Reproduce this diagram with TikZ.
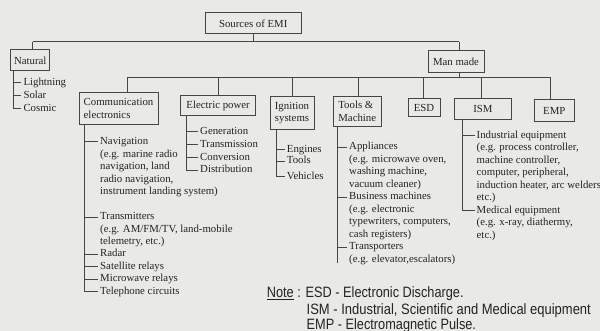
\documentclass[tikz,border=0pt]{standalone}
\usepackage{fontspec}
\usepackage{graphicx}
\setmainfont{Liberation Serif}
\newfontfamily\notefont{Liberation Sans}

\definecolor{paper}{RGB}{233,233,231}
\definecolor{ink}{RGB}{35,35,35}
\definecolor{rule}{RGB}{70,70,70}

\tikzset{
  srcbox/.style={draw=rule, line width=1pt, inner sep=0pt, align=left,
    font=\fontsize{10.8}{12.5}\selectfont, text=ink},
  item/.style={inner sep=0pt, anchor=base west,
    font=\fontsize{10.8}{12.5}\selectfont, text=ink},
  link/.style={draw=rule, line width=0.9pt},
  notetxt/.style={inner sep=0pt, anchor=base west, text=ink,
    font=\notefont\fontsize{15}{18}\selectfont},
}
% left-aligned lines whose baseline is that of the first line
\newcommand\vlines[1]{\vtop{\let\\\cr\halign{##\hfil\cr#1\crcr}}}
% short tick from a list's vertical rule to one of its entries
\newcommand\itemtick[2]{\draw[link] ([xshift=-2pt,yshift=3pt]#1.base west) -- ++(-#2,0);}

\begin{document}
\begin{tikzpicture}[x=1pt,y=-1pt]
\fill[paper] (0,0) rectangle (600,331);
\useasboundingbox (0,0) rectangle (600,331);

% ---- boxes ----
\node[srcbox, minimum width=95.5pt, minimum height=21.3pt] (src) at (253.25,23.35) {Sources of EMI};
\node[srcbox, minimum width=39.1pt, minimum height=20.7pt] (nat) at (30.25,60.35) {Natural};
\node[srcbox, minimum width=56pt, minimum height=21.6pt] (man) at (456,61.5) {Man made};
\node[srcbox, minimum width=79pt, minimum height=31.6pt] (comm) at (118.5,108.5) {Communication\\electronics};
\node[srcbox, minimum width=75pt, minimum height=20pt] (elec) at (218.1,105.7) {Electric power};
\node[srcbox, minimum width=44pt, minimum height=33.4pt] (ign) at (292,113) {Ignition\\systems};
\node[srcbox, minimum width=48.5pt, minimum height=30.4pt] (tool) at (357.25,111.5) {Tools \&\\Machine};
\node[srcbox, minimum width=32pt, minimum height=18pt] (esd) at (424,107.7) {ESD};
\node[srcbox, minimum width=57.7pt, minimum height=21.3pt] (ism) at (482.85,109.35) {ISM};
\node[srcbox, minimum width=40.5pt, minimum height=22.3pt] (emp) at (554.25,110.85) {EMP};

% ---- first level ----
\coordinate (dnat) at (32.5,41.7);
\coordinate (dman) at (459,41.7);
\draw[link] (dnat) -- (dman);
\draw[link] (src.south) -- (src.south |- dnat);
\draw[link] (dnat) -- (dnat |- nat.north);
\draw[link] (dman) -- (dman |- man.north);

% ---- man made branches ----
\coordinate (dcomm) at (127.5,77.3);
\coordinate (delec) at (218,77.3);
\coordinate (dign)  at (292,77.3);
\coordinate (dtool) at (358,77.3);
\coordinate (desd)  at (423.7,77.3);
\coordinate (dism)  at (481.5,77.3);
\coordinate (demp)  at (550,77.3);
\draw[link] (dcomm) -- (demp);
\draw[link] (man.south -| dman) -- (dman |- dcomm);
\foreach \d/\b in {dcomm/comm, delec/elec, dign/ign, dtool/tool, desd/esd, dism/ism, demp/emp}
  \draw[link] (\d) -- (\d |- \b.north);

% ---- natural ----
\node[item] (light)  at (23.3,85.5)  {Lightning};
\node[item] (solar)  at (23.3,98.5)  {Solar};
\node[item] (cosmic) at (23.3,111.3) {Cosmic};
\draw[link] ([xshift=3.3pt]nat.south west) |- ([xshift=-2pt,yshift=3pt]cosmic.base west);
\itemtick{light}{7.3}
\itemtick{solar}{7.3}

% ---- communication electronics ----
\node[item] (nav)   at (100,144.7) {\vlines{Navigation\\(e.g. marine radio\\navigation, land\\radio navigation,\\instrument landing system)}};
\node[item] (trans) at (100,220)   {\vlines{Transmitters\\(e.g. AM/FM/TV, land-mobile\\telemetry, etc.)}};
\node[item] (radar) at (100,257)   {Radar};
\node[item] (sat)   at (100,269.5) {Satellite relays};
\node[item] (micro) at (100,282)   {Microwave relays};
\node[item] (tel)   at (100,294.5) {Telephone circuits};
\draw[link] ([xshift=5.6pt]comm.south west) |- ([xshift=-2pt,yshift=3pt]tel.base west);
\itemtick{nav}{13.4}
\itemtick{trans}{13.4}
\itemtick{radar}{13.4}
\itemtick{sat}{13.4}
\itemtick{micro}{13.4}

% ---- electric power ----
\node[item] (gen)  at (200,134.7) {Generation};
\node[item] (tx)   at (200,147.7) {Transmission};
\node[item] (conv) at (200,160.2) {Conversion};
\node[item] (dist) at (200,173)   {Distribution};
\draw[link] ([xshift=6pt]elec.south west) |- ([xshift=-2pt,yshift=3pt]dist.base west);
\itemtick{gen}{11.4}
\itemtick{tx}{11.4}
\itemtick{conv}{11.4}

% ---- ignition systems ----
\node[item] (eng)  at (286.7,152.5) {Engines};
\node[item] (tls)  at (286.7,164)   {Tools};
\node[item] (veh)  at (286.7,179.3) {Vehicles};
\draw[link] ([xshift=6.5pt]ign.south west) |- ([xshift=-2pt,yshift=3pt]veh.base west);
\itemtick{eng}{8.2}
\itemtick{tls}{8.2}

% ---- tools & machine ----
\node[item] (appl) at (349,150) {\vlines{Appliances\\(e.g. microwave oven,\\washing machine,\\vacuum cleaner)}};
\node[item] (bus)  at (349,200) {\vlines{Business machines\\(e.g. electronic\\typewriters, computers,\\cash registers)}};
\node[item] (trp)  at (349,250) {\vlines{Transporters\\(e.g. elevator,escalators)}};
\draw[link] ([xshift=5pt]tool.south west) -- ++(0,135.5);
\itemtick{appl}{9}
\itemtick{bus}{9}
\itemtick{trp}{9}

% ---- ISM ----
\node[item] (ind) at (476.5,138.5) {\vlines{Industrial equipment\\(e.g. process controller,\\machine controller,\\computer, peripheral,\\induction heater, arc welders\\etc.)}};
\node[item] (med) at (476.5,213.5) {\vlines{Medical equipment\\(e.g. x-ray, diathermy,\\etc.)}};
\draw[link] ([xshift=8.8pt]ism.south west) |- ([xshift=-2pt,yshift=3pt]med.base west);
\itemtick{ind}{11.7}

% ---- note ----
\node[notetxt] (note1) at (266.7,297.7) {\scalebox{0.85}[1]{\underline{Note} : ESD - Electronic Discharge.}};
\node[notetxt] (note2) at (306.5,315)   {\scalebox{0.865}[1]{ISM - Industrial, Scientific and Medical equipment}};
\node[notetxt] (note3) at (306.5,329.3) {\scalebox{0.85}[1]{EMP - Electromagnetic Pulse.}};
\end{tikzpicture}
\end{document}
